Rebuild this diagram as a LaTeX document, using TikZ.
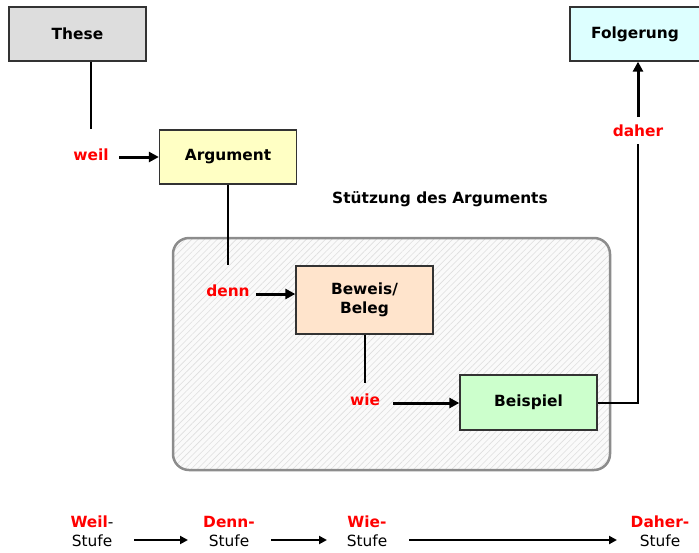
\documentclass[tikz,border=0pt]{standalone}
\usepackage{fontspec}
\setmainfont{DejaVu Sans}
\usetikzlibrary{arrows.meta,patterns.meta}
\definecolor{theseC}{HTML}{DDDDDD}
\definecolor{folgC}{HTML}{DDFFFF}
\definecolor{argC}{HTML}{FFFFC4}
\definecolor{bewC}{HTML}{FFE4CC}
\definecolor{beiC}{HTML}{CCFFCC}
\definecolor{redC}{HTML}{FF0000}
\tikzset{
  box/.style={draw=black!80, line width=1.3pt, minimum width=137pt, minimum height=54pt, inner sep=0pt, font=\bfseries, align=center},
  lbl/.style={text=redC, font=\bfseries, inner sep=0pt},
  conn/.style={line width=2pt},
  arr/.style={line width=3pt, -{Triangle[length=10pt,width=10pt]}},
  sarr/.style={line width=2pt, -{Triangle[length=8pt,width=8pt]}},
}
\begin{document}
\begin{tikzpicture}[x=1pt,y=-1pt]
\useasboundingbox (0,0) rectangle (699,552);
\fontsize{15.4}{19}\selectfont
% support region
\fill[black!2, rounded corners=16pt] (173,238) rectangle (610,470);
\fill[pattern={Lines[angle=45,distance=4.5pt,line width=0.6pt]}, pattern color=black!13, rounded corners=16pt] (173,238) rectangle (610,470);
\draw[black!45, line width=2.5pt, rounded corners=16pt] (173,238) rectangle (610,470);
\node[font=\bfseries] (stz) at (440,199) {Stützung des Arguments};
% boxes
\node[box, fill=theseC] (these) at (77.5,34) {These};
\node[box, fill=folgC, minimum width=130pt] (folg) at (635,34) {Folgerung};
\node[box, fill=argC] (arg) at (228,157) {Argument};
\node[box, fill=bewC, minimum height=68pt] (bew) at (364.5,300) {Beweis/\\Beleg};
\node[box, fill=beiC, minimum height=55pt] (bei) at (528.5,402.5) {Beispiel};
% labels
\node[lbl] (weil) at (91,155) {weil};
\node[lbl] (denn) at (228,291) {denn};
\node[lbl] (wie) at (365,400) {wie};
\node[lbl] (daher) at (638,131) {daher};
\coordinate (t1) at (91,129);
\coordinate (a1) at (228,265);
\coordinate (b1) at (365,383);
\coordinate (c1) at (638,403);
\coordinate (c2) at (638,144);
% connectors
\draw[conn] (these.south -| t1) -- (t1);
\draw[arr] (119,157) -- (arg.west);
\draw[conn] (arg.south) -- (a1);
\draw[arr] (256,294) -- (bew.west |- 0,294);
\draw[conn] (bew.south -| b1) -- (b1);
\draw[arr] (393,403) -- (bei.west |- 0,403);
\draw[conn] (bei.east |- c1) -- (c1) -- (c2);
\draw[arr] (638,117) -- (folg.south -| c1);
% bottom legend
\node[inner sep=0pt] (s1) at (92,522) {\textcolor{redC}{\bfseries Weil}-};
\node[inner sep=0pt] (s1b) at (92,541) {Stufe};
\node[inner sep=0pt,text=redC,font=\bfseries] (s2) at (229,522) {Denn-};
\node[inner sep=0pt] (s2b) at (229,541) {Stufe};
\node[inner sep=0pt,text=redC,font=\bfseries] (s3) at (367,522) {Wie-};
\node[inner sep=0pt] (s3b) at (367,541) {Stufe};
\node[inner sep=0pt,text=redC,font=\bfseries] (s4) at (660,522) {Daher-};
\node[inner sep=0pt] (s4b) at (660,541) {Stufe};
\draw[sarr] (134,540) -- (188,540);
\draw[sarr] (271,540) -- (327,540);
\draw[sarr] (409,540) -- (617,540);
\end{tikzpicture}
\end{document}
